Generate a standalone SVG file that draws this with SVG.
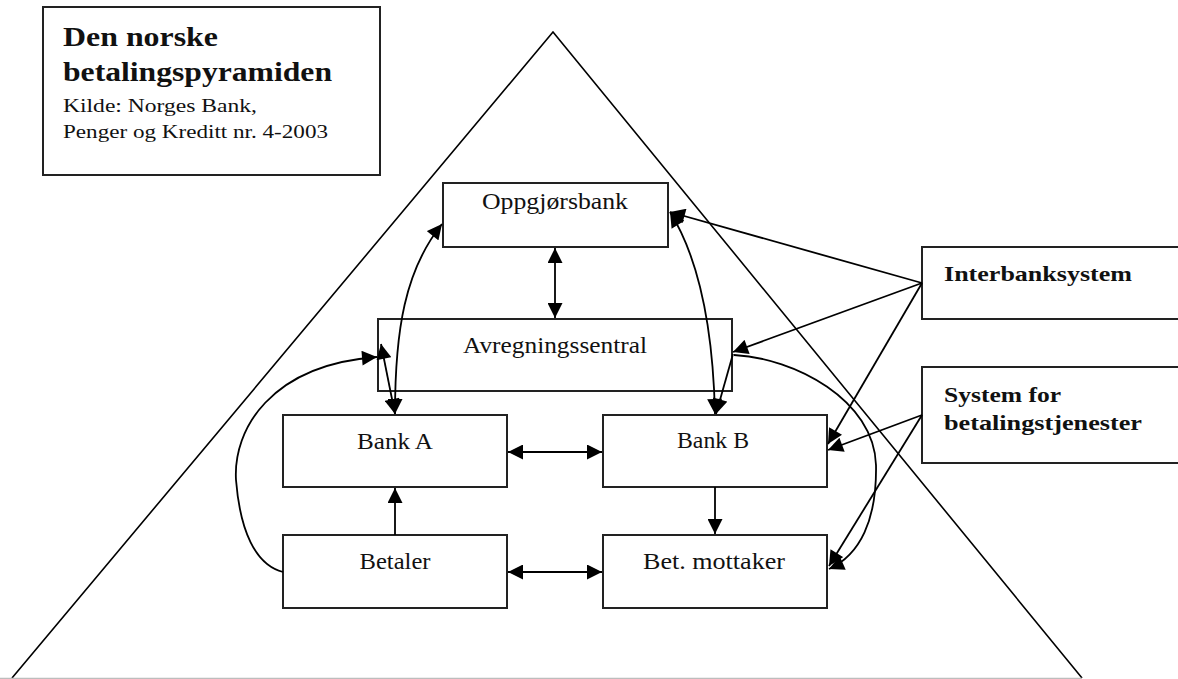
<svg xmlns="http://www.w3.org/2000/svg" width="1178" height="679" viewBox="0 0 1178 679">
<style>
.box{fill:#fff;stroke:#222;stroke-width:2}
.lbl{font-family:"Liberation Serif","Times New Roman",serif;font-size:23px;fill:#111;text-anchor:middle}
.bold{font-family:"Liberation Serif","Times New Roman",serif;font-weight:bold;fill:#111}
.reg{font-family:"Liberation Serif","Times New Roman",serif;fill:#111}
.c{fill:none;stroke:#000;stroke-width:1.8}
.p{fill:none;stroke:#000;stroke-width:1.6}
</style>
<defs>
<marker id="ah" viewBox="0 0 10 10" refX="10" refY="5" markerWidth="16" markerHeight="15" markerUnits="userSpaceOnUse" orient="auto-start-reverse">
<path d="M0,0 L10,5 L0,10 z" fill="#000"/>
</marker>
</defs>
<rect width="1178" height="679" fill="#fff"/>
<g id="pyramid">
<path class="p" d="M12,678 L553,32 L1082,678"/>
<line x1="0" y1="678.5" x2="1082" y2="678.5" stroke="#bdbdbd" stroke-width="1.5"/>
</g>
<g id="title">
<rect class="box" x="43" y="7" width="337" height="168"/>
<text class="bold" x="63" y="46" font-size="28" textLength="155" lengthAdjust="spacingAndGlyphs">Den norske</text>
<text class="bold" x="63" y="81" font-size="28" textLength="269" lengthAdjust="spacingAndGlyphs">betalingspyramiden</text>
<text class="reg" x="63" y="112" font-size="19" textLength="194" lengthAdjust="spacingAndGlyphs">Kilde: Norges Bank,</text>
<text class="reg" x="63" y="138" font-size="19" textLength="265" lengthAdjust="spacingAndGlyphs">Penger og Kreditt nr. 4-2003</text>
</g>
<g id="oppgjorsbank">
<rect class="box" x="443" y="183" width="225" height="64"/>
<text class="lbl" x="555" y="209" textLength="146" lengthAdjust="spacingAndGlyphs">Oppgjørsbank</text>
</g>
<g id="avregningssentral">
<rect class="box" x="378" y="319" width="354" height="72"/>
<text class="lbl" x="555" y="353" textLength="184" lengthAdjust="spacingAndGlyphs">Avregningssentral</text>
</g>
<g id="bankA">
<rect class="box" x="283" y="415" width="224" height="72"/>
<text class="lbl" x="395" y="449" textLength="76" lengthAdjust="spacingAndGlyphs">Bank A</text>
</g>
<g id="bankB">
<rect class="box" x="603" y="415" width="224" height="72"/>
<text class="lbl" x="713" y="448" textLength="72" lengthAdjust="spacingAndGlyphs">Bank B</text>
</g>
<g id="betaler">
<rect class="box" x="283" y="535" width="224" height="73"/>
<text class="lbl" x="395" y="569" textLength="71" lengthAdjust="spacingAndGlyphs">Betaler</text>
</g>
<g id="betmottaker">
<rect class="box" x="603" y="535" width="224" height="73"/>
<text class="lbl" x="714" y="569" textLength="142" lengthAdjust="spacingAndGlyphs">Bet. mottaker</text>
</g>
<g id="interbanksystem">
<path class="box" d="M1180,247 L922,247 L922,319 L1180,319"/>
<text class="bold" x="944" y="281" font-size="22" textLength="188" lengthAdjust="spacingAndGlyphs">Interbanksystem</text>
</g>
<g id="betalingstjenester">
<path class="box" d="M1180,367 L922,367 L922,463 L1180,463"/>
<text class="bold" x="944" y="402" font-size="22" textLength="117" lengthAdjust="spacingAndGlyphs">System for</text>
<text class="bold" x="944" y="430" font-size="22" textLength="198" lengthAdjust="spacingAndGlyphs">betalingstjenester</text>
</g>
<g id="connectors">
<path class="c" d="M555,248 L555,318" marker-start="url(#ah)" marker-end="url(#ah)"/>
<path class="c" d="M508,452 L602,452" marker-start="url(#ah)" marker-end="url(#ah)"/>
<path class="c" d="M508,572 L602,572" marker-start="url(#ah)" marker-end="url(#ah)"/>
<path class="c" d="M395,535 L395,488" marker-end="url(#ah)"/>
<path class="c" d="M715,487 L715,534" marker-end="url(#ah)"/>
<path class="c" d="M395,414 C395,330 405,270 442,224" marker-start="url(#ah)" marker-end="url(#ah)"/>
<path class="c" d="M670,212 C700,260 713,330 715,414" marker-start="url(#ah)" marker-end="url(#ah)"/>
<path class="c" d="M381,344 L395,414" marker-start="url(#ah)" marker-end="url(#ah)"/>
<path class="c" d="M733,354 L716,414" marker-end="url(#ah)"/>
<path class="c" d="M283,572 C255,565 240,530 236,480 C233,430 270,365 377,357" marker-end="url(#ah)"/>
<path class="c" d="M734,355 C795,358 874,400 876,465 C877,520 860,555 829,569" marker-end="url(#ah)"/>
<path class="c" d="M922,283 L670,212" marker-end="url(#ah)"/>
<path class="c" d="M922,283 L733,352" marker-end="url(#ah)"/>
<path class="c" d="M922,283 L828,444" marker-end="url(#ah)"/>
<path class="c" d="M922,415 L828,450" marker-end="url(#ah)"/>
<path class="c" d="M922,415 L829,566" marker-end="url(#ah)"/>
</g>
</svg>
